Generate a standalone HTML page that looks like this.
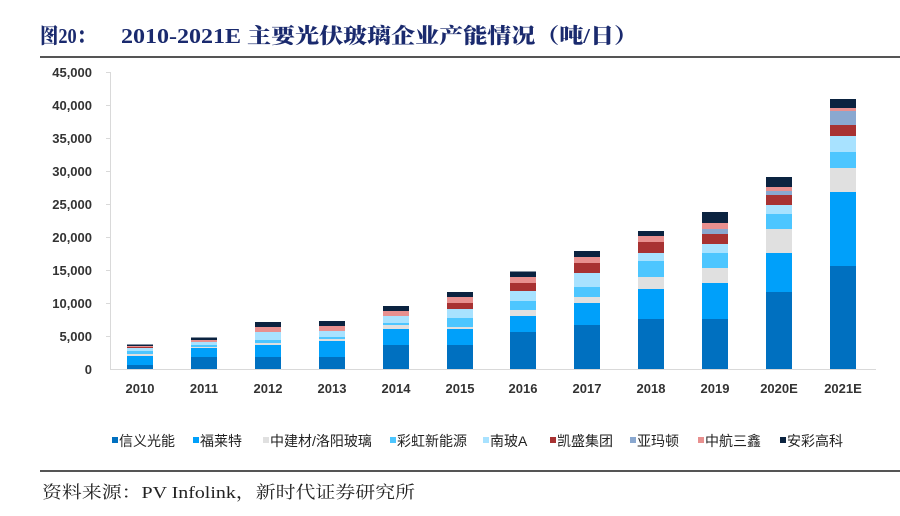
<!DOCTYPE html>
<html><head><meta charset="utf-8"><style>
body{margin:0;background:#fff;width:900px;height:516px;overflow:hidden}
svg{display:block}
.t{font-family:"Liberation Sans","Noto Sans CJK SC",sans-serif;font-size:13px;fill:#222}
</style></head><body>
<svg width="900" height="516" xmlns="http://www.w3.org/2000/svg">
<text x="40" y="43" font-family="Liberation Serif,'Noto Serif CJK SC',serif" font-weight="900" font-size="21" fill="#1a2a6e" textLength="55" lengthAdjust="spacingAndGlyphs">图20：</text>
<text x="121" y="43" font-family="Liberation Serif,'Noto Serif CJK SC',serif" font-weight="900" font-size="21" fill="#1a2a6e" textLength="517" lengthAdjust="spacingAndGlyphs">2010-2021E 主要光伏玻璃企业产能情况（吨/日）</text>
<rect x="40" y="56" width="860" height="2" fill="#555"/>
<g class="t" text-anchor="end" font-weight="bold" style="fill:#333">
<text x="92" y="77">45,000</text><text x="92" y="110">40,000</text><text x="92" y="143">35,000</text><text x="92" y="176">30,000</text><text x="92" y="209">25,000</text><text x="92" y="242">20,000</text><text x="92" y="275">15,000</text><text x="92" y="308">10,000</text><text x="92" y="341">5,000</text><text x="92" y="374">0</text>
</g>
<g stroke="#d9d9d9" stroke-width="1">
<line x1="110.5" y1="72" x2="110.5" y2="370"/><line x1="110" y1="369.5" x2="876" y2="369.5"/>
<line x1="106" y1="72.5" x2="110" y2="72.5"/><line x1="106" y1="105.5" x2="110" y2="105.5"/><line x1="106" y1="138.5" x2="110" y2="138.5"/><line x1="106" y1="171.5" x2="110" y2="171.5"/><line x1="106" y1="204.5" x2="110" y2="204.5"/><line x1="106" y1="237.5" x2="110" y2="237.5"/><line x1="106" y1="270.5" x2="110" y2="270.5"/><line x1="106" y1="303.5" x2="110" y2="303.5"/><line x1="106" y1="336.5" x2="110" y2="336.5"/>
</g>
<g class="t" text-anchor="middle" font-weight="bold" style="fill:#333">
<text x="140" y="393">2010</text><text x="204" y="393">2011</text><text x="268" y="393">2012</text><text x="332" y="393">2013</text><text x="396" y="393">2014</text><text x="460" y="393">2015</text><text x="523" y="393">2016</text><text x="587" y="393">2017</text><text x="651" y="393">2018</text><text x="715" y="393">2019</text><text x="779" y="393">2020E</text><text x="843" y="393">2021E</text>
</g>
<g>
<rect x="127" y="365" width="26" height="4" fill="#0070c0"/><rect x="127" y="356" width="26" height="9" fill="#00a0fa"/><rect x="127" y="354" width="26" height="2" fill="#e0e0e0"/><rect x="127" y="351" width="26" height="3" fill="#4dc6ff"/><rect x="127" y="348" width="26" height="3" fill="#a8e2ff"/><rect x="127" y="347" width="26" height="1" fill="#a83232"/><rect x="127" y="346" width="26" height="1" fill="#e8908f"/><rect x="127" y="344.5" width="26" height="1.5" fill="#0b2340"/>
<rect x="191" y="357" width="26" height="12" fill="#0070c0"/><rect x="191" y="348" width="26" height="9" fill="#00a0fa"/><rect x="191" y="347" width="26" height="1" fill="#e0e0e0"/><rect x="191" y="345" width="26" height="2" fill="#4dc6ff"/><rect x="191" y="342" width="26" height="3" fill="#a8e2ff"/><rect x="191" y="340" width="26" height="2" fill="#e8908f"/><rect x="191" y="337.5" width="26" height="2.5" fill="#0b2340"/>
<rect x="255" y="357" width="26" height="12" fill="#0070c0"/><rect x="255" y="345" width="26" height="12" fill="#00a0fa"/><rect x="255" y="343" width="26" height="2" fill="#e0e0e0"/><rect x="255" y="340" width="26" height="3" fill="#4dc6ff"/><rect x="255" y="332" width="26" height="8" fill="#a8e2ff"/><rect x="255" y="327" width="26" height="5" fill="#e8908f"/><rect x="255" y="322" width="26" height="5" fill="#0b2340"/>
<rect x="319" y="357" width="26" height="12" fill="#0070c0"/><rect x="319" y="341" width="26" height="16" fill="#00a0fa"/><rect x="319" y="339" width="26" height="2" fill="#e0e0e0"/><rect x="319" y="337" width="26" height="2" fill="#4dc6ff"/><rect x="319" y="331" width="26" height="6" fill="#a8e2ff"/><rect x="319" y="326" width="26" height="5" fill="#e8908f"/><rect x="319" y="321" width="26" height="5" fill="#0b2340"/>
<rect x="383" y="345" width="26" height="24" fill="#0070c0"/><rect x="383" y="329" width="26" height="16" fill="#00a0fa"/><rect x="383" y="325" width="26" height="4" fill="#e0e0e0"/><rect x="383" y="323" width="26" height="2" fill="#4dc6ff"/><rect x="383" y="316" width="26" height="7" fill="#a8e2ff"/><rect x="383" y="311" width="26" height="5" fill="#e8908f"/><rect x="383" y="306" width="26" height="5" fill="#0b2340"/>
<rect x="447" y="345" width="26" height="24" fill="#0070c0"/><rect x="447" y="329" width="26" height="16" fill="#00a0fa"/><rect x="447" y="327" width="26" height="2" fill="#e0e0e0"/><rect x="447" y="318" width="26" height="9" fill="#4dc6ff"/><rect x="447" y="309" width="26" height="9" fill="#a8e2ff"/><rect x="447" y="303" width="26" height="6" fill="#a83232"/><rect x="447" y="297" width="26" height="6" fill="#e8908f"/><rect x="447" y="292" width="26" height="5" fill="#0b2340"/>
<rect x="510" y="332" width="26" height="37" fill="#0070c0"/><rect x="510" y="316" width="26" height="16" fill="#00a0fa"/><rect x="510" y="310" width="26" height="6" fill="#e0e0e0"/><rect x="510" y="301" width="26" height="9" fill="#4dc6ff"/><rect x="510" y="291" width="26" height="10" fill="#a8e2ff"/><rect x="510" y="283" width="26" height="8" fill="#a83232"/><rect x="510" y="277" width="26" height="6" fill="#e8908f"/><rect x="510" y="271.5" width="26" height="5.5" fill="#0b2340"/>
<rect x="574" y="325" width="26" height="44" fill="#0070c0"/><rect x="574" y="303" width="26" height="22" fill="#00a0fa"/><rect x="574" y="297" width="26" height="6" fill="#e0e0e0"/><rect x="574" y="287" width="26" height="10" fill="#4dc6ff"/><rect x="574" y="273" width="26" height="14" fill="#a8e2ff"/><rect x="574" y="263" width="26" height="10" fill="#a83232"/><rect x="574" y="257" width="26" height="6" fill="#e8908f"/><rect x="574" y="251" width="26" height="6" fill="#0b2340"/>
<rect x="638" y="319" width="26" height="50" fill="#0070c0"/><rect x="638" y="289" width="26" height="30" fill="#00a0fa"/><rect x="638" y="277" width="26" height="12" fill="#e0e0e0"/><rect x="638" y="261" width="26" height="16" fill="#4dc6ff"/><rect x="638" y="253" width="26" height="8" fill="#a8e2ff"/><rect x="638" y="242" width="26" height="11" fill="#a83232"/><rect x="638" y="236" width="26" height="6" fill="#e8908f"/><rect x="638" y="231" width="26" height="5" fill="#0b2340"/>
<rect x="702" y="319" width="26" height="50" fill="#0070c0"/><rect x="702" y="283" width="26" height="36" fill="#00a0fa"/><rect x="702" y="268" width="26" height="15" fill="#e0e0e0"/><rect x="702" y="253" width="26" height="15" fill="#4dc6ff"/><rect x="702" y="244" width="26" height="9" fill="#a8e2ff"/><rect x="702" y="234" width="26" height="10" fill="#a83232"/><rect x="702" y="229" width="26" height="5" fill="#8aa8d0"/><rect x="702" y="223" width="26" height="6" fill="#e8908f"/><rect x="702" y="212" width="26" height="11" fill="#0b2340"/>
<rect x="766" y="292" width="26" height="77" fill="#0070c0"/><rect x="766" y="253" width="26" height="39" fill="#00a0fa"/><rect x="766" y="229" width="26" height="24" fill="#e0e0e0"/><rect x="766" y="214" width="26" height="15" fill="#4dc6ff"/><rect x="766" y="205" width="26" height="9" fill="#a8e2ff"/><rect x="766" y="195" width="26" height="10" fill="#a83232"/><rect x="766" y="191" width="26" height="4" fill="#8aa8d0"/><rect x="766" y="187" width="26" height="4" fill="#e8908f"/><rect x="766" y="177" width="26" height="10" fill="#0b2340"/>
<rect x="830" y="266" width="26" height="103" fill="#0070c0"/><rect x="830" y="192" width="26" height="74" fill="#00a0fa"/><rect x="830" y="168" width="26" height="24" fill="#e0e0e0"/><rect x="830" y="152" width="26" height="16" fill="#4dc6ff"/><rect x="830" y="136" width="26" height="16" fill="#a8e2ff"/><rect x="830" y="125" width="26" height="11" fill="#a83232"/><rect x="830" y="111" width="26" height="14" fill="#8aa8d0"/><rect x="830" y="108" width="26" height="3" fill="#e8908f"/><rect x="830" y="99" width="26" height="9" fill="#0b2340"/>
</g>
<g class="t" style="fill:#222;font-size:14px">
<rect x="112" y="437" width="6" height="6" fill="#0070c0"/><text x="119" y="446">信义光能</text>
<rect x="193" y="437" width="6" height="6" fill="#00a0fa"/><text x="200" y="446">福莱特</text>
<rect x="263" y="437" width="6" height="6" fill="#e0e0e0"/><text x="270" y="446">中建材/洛阳玻璃</text>
<rect x="390" y="437" width="6" height="6" fill="#4dc6ff"/><text x="397" y="446">彩虹新能源</text>
<rect x="483" y="437" width="6" height="6" fill="#a8e2ff"/><text x="490" y="446">南玻A</text>
<rect x="550" y="437" width="6" height="6" fill="#a83232"/><text x="557" y="446">凯盛集团</text>
<rect x="630" y="437" width="6" height="6" fill="#8aa8d0"/><text x="637" y="446">亚玛顿</text>
<rect x="698" y="437" width="6" height="6" fill="#e8908f"/><text x="705" y="446">中航三鑫</text>
<rect x="780" y="437" width="6" height="6" fill="#0b2340"/><text x="787" y="446">安彩高科</text>
</g>
<rect x="40" y="470" width="860" height="2" fill="#555"/>
<text x="42" y="498" font-family="Liberation Serif,'Noto Serif CJK SC',serif" font-size="17" fill="#222" textLength="373" lengthAdjust="spacingAndGlyphs">资料来源：PV Infolink，新时代证券研究所</text>
</svg>
</body></html>
